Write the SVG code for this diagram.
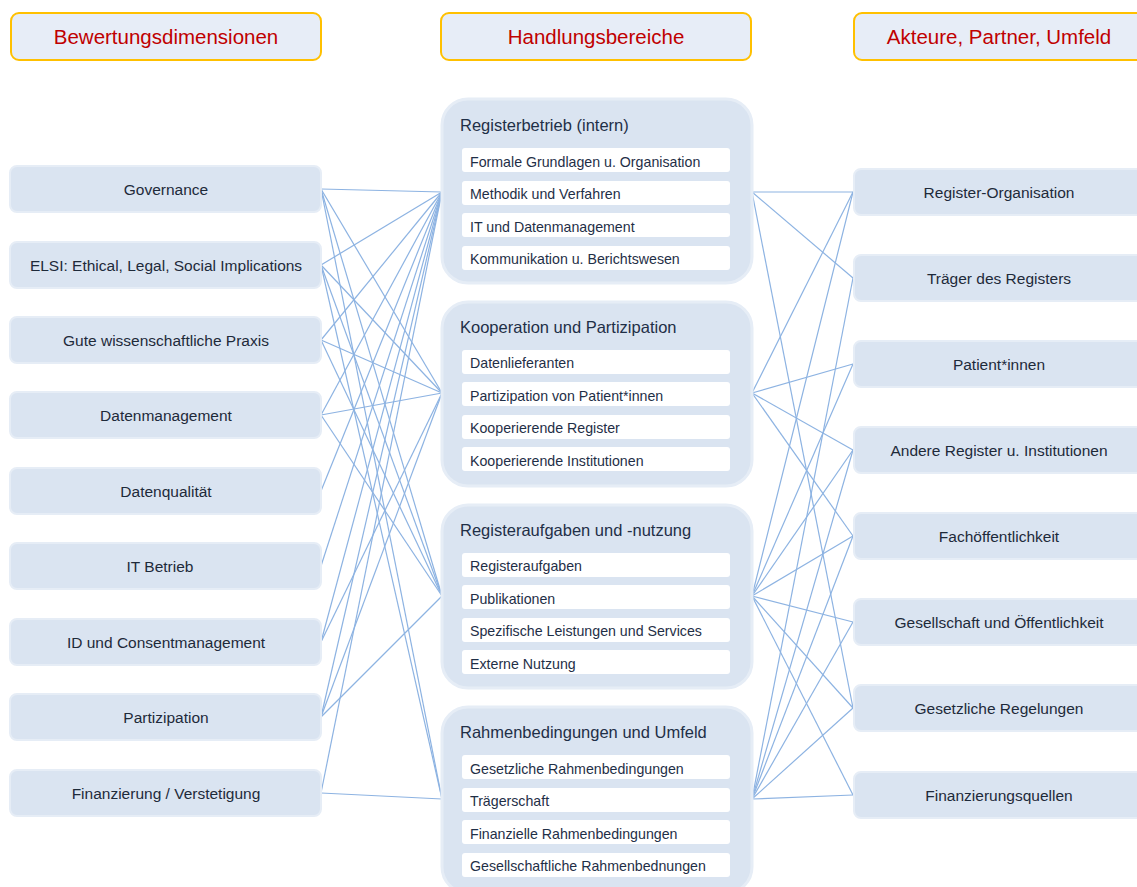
<svg xmlns="http://www.w3.org/2000/svg" width="1137" height="887" viewBox="0 0 1137 887">
<style>
.hdr{fill:#e7edf7;stroke:#ffc000;stroke-width:2}
.hdrt{font-family:"Liberation Sans",Arial,sans-serif;font-size:20.5px;fill:#c00000;text-anchor:middle}
.node{fill:#dae4f1;stroke:#e6edf6;stroke-width:2}
.nodet{font-family:"Liberation Sans",Arial,sans-serif;font-size:15.5px;fill:#1e2a3a;text-anchor:middle}
.box{fill:#dae4f1;stroke:#e6edf6;stroke-width:3}
.boxt{font-family:"Liberation Sans",Arial,sans-serif;font-size:16.5px;fill:#1f2f47}
.item{fill:#ffffff}
.itemt{font-family:"Liberation Sans",Arial,sans-serif;font-size:14.2px;fill:#1f2f47}
.conn line{stroke:#8db3e2;stroke-width:1.2;fill:none}
</style>
<rect width="1137" height="887" fill="#ffffff"/>
<g id="connectors" class="conn">
<line x1="321" y1="189" x2="442" y2="192"/>
<line x1="321" y1="189" x2="442" y2="393"/>
<line x1="321" y1="189" x2="442" y2="596"/>
<line x1="321" y1="189" x2="442" y2="799"/>
<line x1="321" y1="265" x2="442" y2="192"/>
<line x1="321" y1="265" x2="442" y2="393"/>
<line x1="321" y1="265" x2="442" y2="596"/>
<line x1="321" y1="265" x2="442" y2="799"/>
<line x1="321" y1="340" x2="442" y2="192"/>
<line x1="321" y1="340" x2="442" y2="393"/>
<line x1="321" y1="340" x2="442" y2="596"/>
<line x1="321" y1="415" x2="442" y2="192"/>
<line x1="321" y1="415" x2="442" y2="393"/>
<line x1="321" y1="415" x2="442" y2="596"/>
<line x1="321" y1="491" x2="442" y2="192"/>
<line x1="321" y1="566" x2="442" y2="192"/>
<line x1="321" y1="642" x2="442" y2="192"/>
<line x1="321" y1="642" x2="442" y2="393"/>
<line x1="321" y1="717" x2="442" y2="192"/>
<line x1="321" y1="717" x2="442" y2="393"/>
<line x1="321" y1="717" x2="442" y2="596"/>
<line x1="321" y1="793" x2="442" y2="192"/>
<line x1="321" y1="793" x2="442" y2="799"/>
<line x1="752" y1="192" x2="853" y2="192"/>
<line x1="752" y1="192" x2="853" y2="278"/>
<line x1="752" y1="192" x2="853" y2="708"/>
<line x1="752" y1="393" x2="853" y2="192"/>
<line x1="752" y1="393" x2="853" y2="364"/>
<line x1="752" y1="393" x2="853" y2="450"/>
<line x1="752" y1="393" x2="853" y2="536"/>
<line x1="752" y1="596" x2="853" y2="192"/>
<line x1="752" y1="596" x2="853" y2="364"/>
<line x1="752" y1="596" x2="853" y2="450"/>
<line x1="752" y1="596" x2="853" y2="536"/>
<line x1="752" y1="596" x2="853" y2="622"/>
<line x1="752" y1="596" x2="853" y2="708"/>
<line x1="752" y1="596" x2="853" y2="795"/>
<line x1="752" y1="799" x2="853" y2="278"/>
<line x1="752" y1="799" x2="853" y2="450"/>
<line x1="752" y1="799" x2="853" y2="536"/>
<line x1="752" y1="799" x2="853" y2="622"/>
<line x1="752" y1="799" x2="853" y2="708"/>
<line x1="752" y1="799" x2="853" y2="795"/>
</g>
<g id="hdr-left"><rect class="hdr" x="11" y="13" width="310" height="47" rx="8"/><text class="hdrt" x="166" y="44">Bewertungsdimensionen</text></g>
<g id="hdr-mid"><rect class="hdr" x="441" y="13" width="310" height="47" rx="8"/><text class="hdrt" x="596" y="44">Handlungsbereiche</text></g>
<g id="hdr-right"><rect class="hdr" x="854" y="13" width="300" height="47" rx="8"/><text class="hdrt" x="999" y="44">Akteure, Partner, Umfeld</text></g>
<g id="l-governance"><rect class="node" x="10" y="166" width="311" height="46" rx="7"/><text class="nodet" x="166" y="195">Governance</text></g>
<g id="l-elsi"><rect class="node" x="10" y="242" width="311" height="46" rx="7"/><text class="nodet" x="166" y="271">ELSI: Ethical, Legal, Social Implications</text></g>
<g id="l-gwp"><rect class="node" x="10" y="317" width="311" height="46" rx="7"/><text class="nodet" x="166" y="346">Gute wissenschaftliche Praxis</text></g>
<g id="l-datenmgmt"><rect class="node" x="10" y="392" width="311" height="46" rx="7"/><text class="nodet" x="166" y="421">Datenmanagement</text></g>
<g id="l-datenq"><rect class="node" x="10" y="468" width="311" height="46" rx="7"/><text class="nodet" x="166" y="497">Datenqualität</text></g>
<g id="l-it"><rect class="node" x="10" y="543" width="311" height="46" rx="7"/><text class="nodet" x="160" y="572">IT Betrieb</text></g>
<g id="l-id"><rect class="node" x="10" y="619" width="311" height="46" rx="7"/><text class="nodet" x="166" y="648">ID und Consentmanagement</text></g>
<g id="l-partizipation"><rect class="node" x="10" y="694" width="311" height="46" rx="7"/><text class="nodet" x="166" y="723">Partizipation</text></g>
<g id="l-finanzierung"><rect class="node" x="10" y="770" width="311" height="46" rx="7"/><text class="nodet" x="166" y="799">Finanzierung / Verstetigung</text></g>
<g id="b-registerbetrieb"><rect class="box" x="442" y="99" width="310" height="184" rx="26"/><text class="boxt" x="460" y="131">Registerbetrieb (intern)</text>
<rect class="item" x="462" y="148" width="268" height="24" rx="3"/><text class="itemt" x="470" y="167">Formale Grundlagen u. Organisation</text>
<rect class="item" x="462" y="181" width="268" height="24" rx="3"/><text class="itemt" x="470" y="199">Methodik und Verfahren</text>
<rect class="item" x="462" y="213" width="268" height="24" rx="3"/><text class="itemt" x="470" y="232">IT und Datenmanagement</text>
<rect class="item" x="462" y="246" width="268" height="24" rx="3"/><text class="itemt" x="470" y="264">Kommunikation u. Berichtswesen</text></g>
<g id="b-kooperation"><rect class="box" x="442" y="302" width="310" height="184" rx="26"/><text class="boxt" x="460" y="333">Kooperation und Partizipation</text>
<rect class="item" x="462" y="350" width="268" height="24" rx="3"/><text class="itemt" x="470" y="368">Datenlieferanten</text>
<rect class="item" x="462" y="382" width="268" height="24" rx="3"/><text class="itemt" x="470" y="401">Partizipation von Patient*innen</text>
<rect class="item" x="462" y="415" width="268" height="24" rx="3"/><text class="itemt" x="470" y="433">Kooperierende Register</text>
<rect class="item" x="462" y="447" width="268" height="24" rx="3"/><text class="itemt" x="470" y="466">Kooperierende Institutionen</text></g>
<g id="b-aufgaben"><rect class="box" x="442" y="505" width="310" height="183" rx="26"/><text class="boxt" x="460" y="536">Registeraufgaben und -nutzung</text>
<rect class="item" x="462" y="553" width="268" height="24" rx="3"/><text class="itemt" x="470" y="571">Registeraufgaben</text>
<rect class="item" x="462" y="585" width="268" height="24" rx="3"/><text class="itemt" x="470" y="604">Publikationen</text>
<rect class="item" x="462" y="618" width="268" height="24" rx="3"/><text class="itemt" x="470" y="636">Spezifische Leistungen und Services</text>
<rect class="item" x="462" y="650" width="268" height="24" rx="3"/><text class="itemt" x="470" y="669">Externe Nutzung</text></g>
<g id="b-rahmen"><rect class="box" x="442" y="707" width="310" height="186" rx="26"/><text class="boxt" x="460" y="738">Rahmenbedingungen und Umfeld</text>
<rect class="item" x="462" y="755" width="268" height="24" rx="3"/><text class="itemt" x="470" y="774">Gesetzliche Rahmenbedingungen</text>
<rect class="item" x="462" y="788" width="268" height="24" rx="3"/><text class="itemt" x="470" y="806">Trägerschaft</text>
<rect class="item" x="462" y="820" width="268" height="24" rx="3"/><text class="itemt" x="470" y="839">Finanzielle Rahmenbedingungen</text>
<rect class="item" x="462" y="853" width="268" height="24" rx="3"/><text class="itemt" x="470" y="871">Gesellschaftliche Rahmenbednungen</text></g>
<g id="r-regorg"><rect class="node" x="854" y="169" width="300" height="46" rx="7"/><text class="nodet" x="999" y="198">Register-Organisation</text></g>
<g id="r-traeger"><rect class="node" x="854" y="255" width="300" height="46" rx="7"/><text class="nodet" x="999" y="284">Träger des Registers</text></g>
<g id="r-patient"><rect class="node" x="854" y="341" width="300" height="46" rx="7"/><text class="nodet" x="999" y="370">Patient*innen</text></g>
<g id="r-andere"><rect class="node" x="854" y="427" width="300" height="46" rx="7"/><text class="nodet" x="999" y="456">Andere Register u. Institutionen</text></g>
<g id="r-fach"><rect class="node" x="854" y="513" width="300" height="46" rx="7"/><text class="nodet" x="999" y="542">Fachöffentlichkeit</text></g>
<g id="r-gesellschaft"><rect class="node" x="854" y="599" width="300" height="46" rx="7"/><text class="nodet" x="999" y="628">Gesellschaft und Öffentlichkeit</text></g>
<g id="r-gesetz"><rect class="node" x="854" y="685" width="300" height="46" rx="7"/><text class="nodet" x="999" y="714">Gesetzliche Regelungen</text></g>
<g id="r-finanz"><rect class="node" x="854" y="772" width="300" height="46" rx="7"/><text class="nodet" x="999" y="801">Finanzierungsquellen</text></g>
</svg>
